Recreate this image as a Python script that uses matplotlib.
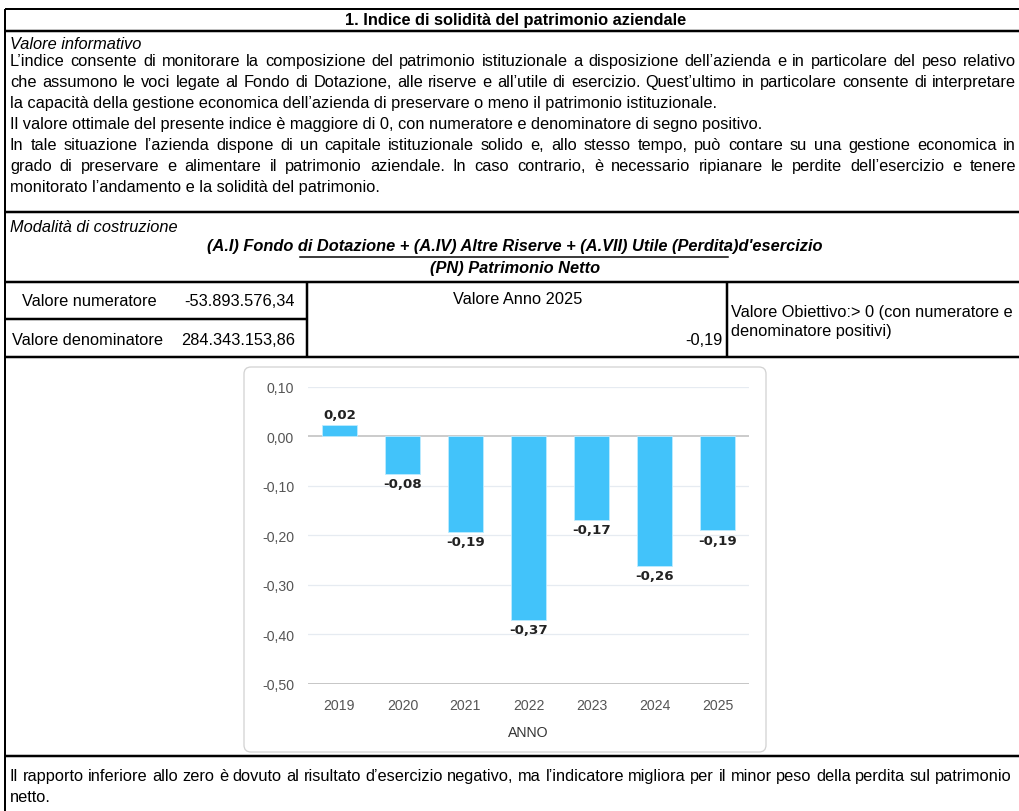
import matplotlib
matplotlib.use('Agg')
import matplotlib.pyplot as plt
from matplotlib.patches import FancyBboxPatch

plt.rcParams['font.family'] = ['Liberation Sans', 'DejaVu Sans']

# testi della scheda
titolo = "1. Indice di solidità del patrimonio aziendale"
info_titolo = "Valore informativo"
info_righe = [
    "L’indice consente di monitorare la composizione del patrimonio istituzionale a disposizione dell’azienda e in particolare del peso relativo",
    "che assumono le voci legate al Fondo di Dotazione, alle riserve e all’utile di esercizio. Quest’ultimo in particolare consente di interpretare",
    "la capacità della gestione economica dell’azienda di preservare o meno il patrimonio istituzionale.",
    "Il valore ottimale del presente indice è maggiore di 0, con numeratore e denominatore di segno positivo.",
    "In tale situazione l’azienda dispone di un capitale istituzionale solido e, allo stesso tempo, può contare su una gestione economica in",
    "grado di preservare e alimentare il patrimonio aziendale. In caso contrario, è necessario ripianare le perdite dell’esercizio e tenere",
    "monitorato l’andamento e la solidità del patrimonio.",
]
info_giust = [True, True, False, False, True, True, False]
costr_titolo = "Modalità di costruzione"
formula_num = "(A.I) Fondo di Dotazione + (A.IV) Altre Riserve + (A.VII) Utile (Perdita)d'esercizio"
formula_den = "(PN) Patrimonio Netto"
val_num_label = "Valore numeratore"
val_num = "-53.893.576,34"
val_den_label = "Valore denominatore"
val_den = "284.343.153,86"
anno_label = "Valore Anno 2025"
anno_val = "-0,19"
obiettivo = ["Valore Obiettivo:> 0 (con numeratore e", "denominatore positivi)"]
nota_righe = [
    "Il rapporto inferiore allo zero è dovuto al risultato d’esercizio negativo, ma l’indicatore migliora per il minor peso della perdita sul patrimonio",
    "netto.",
]
nota_giust = [True, False]

# dati grafico
anni = ['2019', '2020', '2021', '2022', '2023', '2024', '2025']
valori = [0.024, -0.076, -0.193, -0.371, -0.169, -0.262, -0.190]
yticks = [0.10, 0.0, -0.10, -0.20, -0.30, -0.40, -0.50]

W, H = 1020, 812
fig = plt.figure(figsize=(W / 100, H / 100), dpi=100)
bg = fig.add_axes([0, 0, 1, 1])
bg.set_xlim(0, W)
bg.set_ylim(H, 0)
bg.axis('off')
renderer = fig.canvas.get_renderer()

FS = 11.8
PX = 0.72  # 1 px in punti
BL = 4     # scarto centro -> linea di base


def testo(x, y, s, ha='left', **kw):
    return bg.text(x, y + BL, s, ha=ha, va='baseline', fontsize=FS, **kw)


def riga(x0, x1, y, s, giust, **kw):
    if not giust:
        testo(x0, y, s, **kw)
        return
    parole = s.split(' ')
    objs = [testo(0, y, p, **kw) for p in parole]
    larg = [o.get_window_extent(renderer).width for o in objs]
    gap = (x1 - x0 - sum(larg)) / (len(parole) - 1)
    x = x0
    for o, w in zip(objs, larg):
        o.set_x(x)
        x += w + gap


def hline(y, x0=5, x1=W, lw=2.5):
    bg.plot([x0, x1], [y, y], color='black', lw=lw * PX, solid_capstyle='butt')


def vline(x, y0, y1, lw=2.5):
    bg.plot([x, x], [y0, y1], color='black', lw=lw * PX, solid_capstyle='butt')


# griglia della tabella
hline(10, lw=2)
hline(32)
vline(5, 10, H, lw=2)
hline(213)
hline(283)
hline(320, x1=307)
vline(307, 283, 358)
vline(727, 283, 358)
hline(358)
hline(757)

# titolo
testo(516, 21, titolo, ha='center', fontweight='bold')

# valore informativo
testo(10, 45, info_titolo, style='italic')
for i, (s, g) in enumerate(zip(info_righe, info_giust)):
    riga(10, 1016, 62 + 21 * i, s, g)

# modalità di costruzione
testo(10, 228, costr_titolo, style='italic')
testo(515, 247, formula_num, ha='center', style='italic', fontweight='bold')
bg.plot([300, 728], [258, 258], color='black', lw=1.5 * PX)
testo(515, 269, formula_den, ha='center', style='italic', fontweight='bold')

# valori
testo(22, 302, val_num_label)
testo(295, 302, val_num, ha='right')
testo(12, 341, val_den_label)
testo(295, 341, val_den, ha='right')
testo(518, 300, anno_label, ha='center')
testo(723, 341, anno_val, ha='right')
testo(731, 313, obiettivo[0])
testo(731, 332, obiettivo[1])

# nota finale
for i, (s, g) in enumerate(zip(nota_righe, nota_giust)):
    riga(10, 1012, 777 + 21 * i, s, g)

# riquadro del grafico
box = FancyBboxPatch((244, 368), 522, 385, boxstyle='round,pad=0,rounding_size=7',
                     facecolor='white', edgecolor='#D3D3D3', lw=1.3 * PX)
bg.add_patch(box)

ax = fig.add_axes([308 / W, (H - 684.5) / H, 441 / W, 296.5 / H])
ax.patch.set_alpha(0)
x = list(range(len(anni)))
ax.bar(x, valori, width=0.57, color='#42C3FA', edgecolor='#BDEBFF', lw=0.6, zorder=3)
ax.set_xlim(-0.5, len(anni) - 0.5)
ax.set_ylim(-0.50, 0.10)
for t in yticks:
    if t == 0:
        ax.axhline(t, color='#BDBDBD', lw=1.1, zorder=2)
    elif t == -0.50:
        ax.axhline(t, color='#B5B5B5', lw=1.8, zorder=2)
    else:
        ax.axhline(t, color='#E6EBF1', lw=0.9, zorder=1)
for s in ax.spines.values():
    s.set_visible(False)
ax.set_xticks(x)
ax.set_xticklabels(anni)
ax.set_yticks(yticks)
ax.set_yticklabels([f"{t:.2f}".replace('.', ',') for t in yticks])
ax.tick_params(length=0, labelsize=10.2, labelcolor='#555555')
ax.tick_params(axis='y', pad=10)
ax.tick_params(axis='x', pad=10.5)
ax.set_xlabel('ANNO', fontsize=10.2, color='#333333', labelpad=9)

for xi, v in zip(x, valori):
    off = 7 if v >= 0 else -7
    ax.annotate(f"{v:.2f}".replace('.', ','), (xi, v), xytext=(0, off),
                textcoords='offset points', ha='center', va='center',
                fontsize=9.6, fontweight='bold', color='#222222',
                family='DejaVu Sans', zorder=4)

fig.savefig('out.png', dpi=100)
